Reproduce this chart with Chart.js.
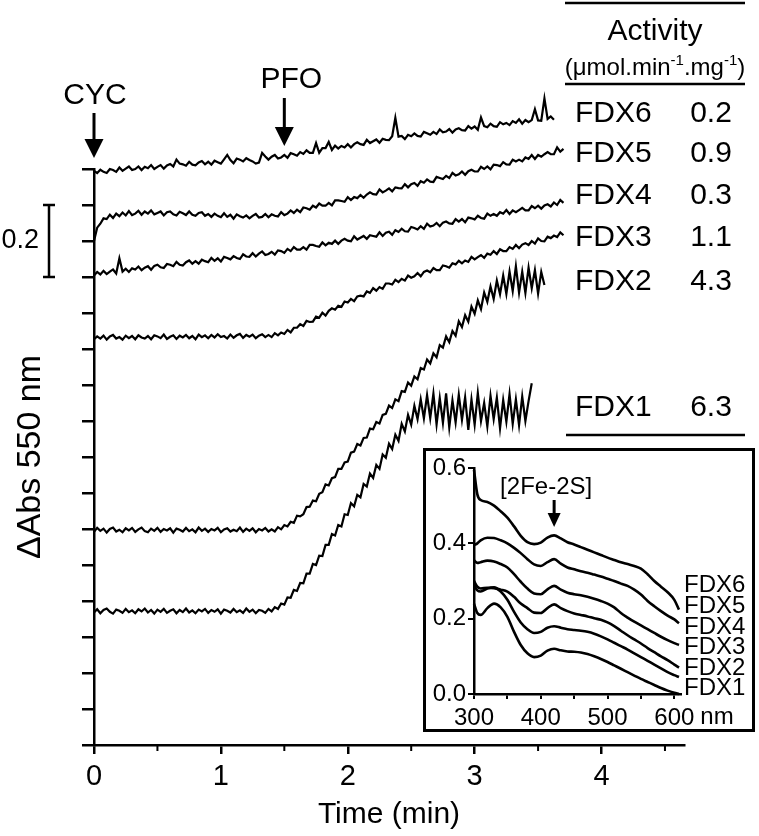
<!DOCTYPE html>
<html>
<head>
<meta charset="utf-8">
<script src="https://cdn.jsdelivr.net/npm/chart.js@4.4.1/dist/chart.umd.min.js"></script>
<style>
  html, body { margin: 0; padding: 0; background: #fff; }
  #wrap { position: relative; width: 759px; height: 836px; }
  #main { position: absolute; left: 0; top: 0; }
  #inset { position: absolute; left: 423px; top: 448px; width: 332px; height: 284px;
           border: 3px solid #000; box-sizing: border-box; background: #fff; }
  #insetCanvas { position: absolute; left: 0; top: 0; }
</style>
</head>
<body>
<div id="wrap">
  <canvas id="main" width="759" height="836"></canvas>
  <div id="inset"><canvas id="insetCanvas" width="326" height="278"></canvas></div>
</div>
<script>
// sampling times (min)
var times = [0,0.025,0.05,0.075,0.1,0.125,0.15,0.175,0.2,0.225,0.25,0.275,0.3,0.325,0.35,0.375,0.4,0.425,0.45,0.475,
             0.5,0.525,0.55,0.575,0.6,0.625,0.65,0.675,0.7,0.725,0.75,0.775,0.8,0.825,0.85,0.875,0.9,0.925,0.95,0.975,
             1,1.025,1.05,1.075,1.1,1.125,1.15,1.175,1.2,1.225,1.25,1.275,1.3,1.325,1.35,1.375,1.4,1.425,1.45,1.475,
             1.5,1.525,1.55,1.575,1.6,1.625,1.65,1.675,1.7,1.725,1.75,1.775,1.8,1.825,1.85,1.875,1.9,1.925,1.95,1.975,
             2,2.025,2.05,2.075,2.1,2.125,2.15,2.175,2.2,2.225,2.25,2.275,2.3,2.325,2.35,2.375,2.4,2.425,2.45,2.475,
             2.5,2.525,2.55,2.575,2.6,2.625,2.65,2.675,2.7,2.725,2.75,2.775,2.8,2.825,2.85,2.875,2.9,2.925,2.95,2.975,
             3,3.025,3.05,3.075,3.1,3.125,3.15,3.175,3.2,3.225,3.25,3.275,3.3,3.325,3.35,3.375,3.4,3.425,3.45,3.475,
             3.5,3.525,3.55,3.575,3.6,3.625,3.65,3.675,3.7];

// dAbs 550 nm traces, in mAbs (traces are offset from each other)
var fdx6 = [1595,1589,1598,1592,1589,1600,1597,1592,1604,1595,1601,1607,1597,1600,1607,1597,1606,1602,1611,1600,
            1606,1611,1601,1610,1614,1607,1626,1615,1613,1609,1620,1612,1610,1618,1622,1613,1620,1612,1623,1619,
            1615,1627,1639,1625,1616,1629,1626,1621,1630,1625,1621,1615,1618,1645,1635,1626,1634,1639,1629,1632,
            1639,1631,1644,1641,1637,1647,1642,1652,1645,1645,1672,1645,1658,1658,1675,1653,1665,1657,1664,1660,
            1669,1660,1669,1674,1669,1667,1681,1672,1677,1682,1673,1684,1681,1680,1691,1742,1690,1692,1683,1695,
            1691,1699,1692,1690,1703,1699,1695,1703,1697,1710,1702,1704,1711,1701,1710,1713,1708,1707,1719,1712,
            1718,1709,1743,1719,1716,1726,1719,1717,1730,1724,1728,1722,1733,1728,1738,1726,1736,1730,1736,1766,
            1735,1734,1796,1739,1746,1737];
var fdx5 = [1400,1437,1448,1463,1461,1473,1464,1476,1469,1479,1471,1483,1472,1476,1484,1473,1482,1476,1485,1474,
            1478,1482,1471,1480,1482,1474,1471,1481,1477,1472,1482,1473,1470,1478,1480,1470,1475,1467,1476,1470,
            1466,1477,1467,1473,1462,1474,1469,1465,1471,1463,1470,1475,1465,1467,1475,1466,1474,1470,1468,1480,
            1472,1476,1485,1478,1487,1480,1493,1491,1487,1498,1493,1504,1498,1498,1506,1499,1513,1513,1511,1509,
            1522,1514,1522,1519,1528,1520,1529,1535,1530,1529,1543,1535,1540,1546,1538,1549,1547,1546,1558,1549,
            1558,1561,1553,1566,1562,1571,1565,1564,1578,1575,1572,1581,1575,1589,1582,1585,1593,1584,1594,1598,
            1593,1593,1606,1600,1607,1599,1612,1611,1608,1619,1613,1612,1626,1621,1626,1621,1632,1628,1639,1628,
            1639,1634,1641,1647,1641,1641,1660,1648,1656];
var fdx4 = [1304,1314,1307,1317,1308,1315,1321,1310,1352,1315,1323,1314,1324,1321,1329,1319,1326,1330,1320,1331,
            1334,1327,1325,1336,1334,1330,1342,1334,1332,1341,1346,1337,1344,1337,1348,1344,1341,1353,1345,1352,
            1343,1356,1353,1349,1358,1353,1350,1363,1357,1356,1366,1357,1365,1371,1361,1364,1370,1362,1374,1372,
            1367,1378,1372,1383,1376,1376,1383,1376,1389,1389,1386,1384,1396,1388,1395,1392,1401,1392,1401,1406,
            1401,1399,1413,1404,1409,1414,1406,1416,1414,1412,1424,1414,1423,1426,1417,1430,1425,1434,1427,1426,
            1439,1436,1432,1441,1434,1448,1440,1443,1450,1441,1451,1454,1449,1448,1461,1454,1461,1452,1465,1463,
            1460,1470,1464,1462,1476,1470,1475,1470,1480,1476,1486,1475,1485,1480,1486,1492,1485,1485,1497,1491,
            1498,1490,1499,1502,1496,1507,1500,1514,1506];
var fdx3 = [1127,1135,1129,1137,1126,1135,1139,1129,1133,1126,1137,1130,1136,1127,1138,1132,1129,1136,1127,1138,
            1135,1130,1140,1128,1134,1138,1128,1137,1132,1139,1130,1136,1127,1140,1133,1138,1130,1139,1132,1141,
            1133,1136,1129,1140,1131,1138,1142,1131,1139,1134,1140,1130,1137,1141,1133,1139,1133,1144,1138,1146,
            1142,1153,1146,1159,1159,1169,1164,1178,1175,1176,1190,1187,1201,1193,1206,1213,1209,1220,1217,1232,
            1229,1239,1233,1246,1248,1246,1260,1256,1269,1262,1272,1267,1282,1282,1279,1292,1286,1295,1290,1304,
            1298,1302,1311,1302,1314,1318,1313,1325,1319,1319,1332,1330,1326,1338,1335,1345,1338,1346,1342,1356,
            1349,1355,1361,1353,1365,1362,1372,1364,1377,1372,1372,1383,1378,1389,1380,1390,1394,1389,1400,1393,
            1407,1400,1399,1412,1408,1415,1411,1424,1416];
var fdx2 = [592,603,595,601,590,600,604,593,598,591,602,596,603,592,599,604,594,591,601,595,
            603,592,600,596,602,590,601,598,593,603,594,599,591,604,595,601,592,600,596,603,
            591,599,602,593,598,594,604,592,601,595,602,591,600,596,603,593,599,593,605,599,
            611,607,620,617,637,635,641,661,662,679,677,698,702,724,721,741,744,767,767,785,
            787,812,815,836,832,853,854,879,877,897,893,917,920,943,936,960,955,983,981,1007,
            998,1024,1016,1047,1043,1071,1060,1088,1077,1111,1104,1135,1119,1150,1137,1177,1161,1194,1176,1218,
            1198,1235,1211,1257,1231,1274,1239,1290,1252,1304,1253,1315,1261,1330,1256,1315,1256,1326,1269,1319,
            1254,1314,1278];
var fdx1 = [368,377,366,375,379,370,365,376,373,367,378,369,374,366,377,371,379,368,375,365,
            376,370,378,367,373,377,366,375,369,379,368,374,366,376,371,378,367,375,370,377,
            365,376,373,368,378,369,374,367,379,370,376,366,375,373,367,378,371,383,378,393,
            390,410,409,431,428,450,449,476,476,503,500,526,525,556,556,586,582,611,607,641,
            639,672,663,695,688,725,718,754,742,778,767,807,798,837,822,862,845,892,871,917,
            890,942,905,960,907,972,908,976,890,964,895,977,882,957,896,973,903,966,875,960,
            890,978,900,950,885,970,905,965,880,958,898,975,892,960,888,968,900,955,1005];

var traceNames = ['FDX1', 'FDX2', 'FDX3', 'FDX4', 'FDX5', 'FDX6'];
var traces = [fdx1, fdx2, fdx3, fdx4, fdx5, fdx6];
var activity = [6.3, 4.3, 1.1, 0.3, 0.9, 0.2];   // umol.min-1.mg-1

// inset: UV-vis spectra
var wavelengths = [300,305,310,320,330,340,350,360,370,380,390,400,410,420,430,440,450,460,470,480,
                   490,500,510,520,530,540,550,560,570,580,590,600,607];
var spec6 = [0.595,0.530,0.515,0.510,0.500,0.485,0.468,0.445,0.420,0.403,0.398,0.402,0.415,0.421,0.413,0.403,0.397,0.390,0.383,0.376,
             0.369,0.362,0.356,0.350,0.345,0.340,0.333,0.318,0.300,0.285,0.270,0.250,0.224];
var spec5 = [0.395,0.400,0.408,0.415,0.414,0.408,0.400,0.388,0.374,0.358,0.344,0.340,0.350,0.358,0.346,0.336,0.331,0.326,0.322,0.317,
             0.312,0.306,0.300,0.293,0.287,0.277,0.264,0.247,0.233,0.220,0.208,0.198,0.188];
var spec4 = [0.355,0.348,0.350,0.354,0.352,0.345,0.336,0.318,0.298,0.280,0.267,0.265,0.278,0.287,0.277,0.269,0.265,0.262,0.258,0.253,
             0.247,0.240,0.230,0.215,0.203,0.192,0.182,0.172,0.162,0.152,0.143,0.135,0.130];
var spec3 = [0.300,0.285,0.280,0.282,0.281,0.277,0.272,0.258,0.240,0.228,0.216,0.215,0.228,0.238,0.228,0.220,0.214,0.210,0.206,0.201,
             0.197,0.190,0.180,0.168,0.156,0.145,0.134,0.122,0.111,0.100,0.090,0.078,0.070];
var spec2 = [0.290,0.275,0.272,0.280,0.283,0.272,0.250,0.218,0.190,0.172,0.162,0.165,0.176,0.180,0.176,0.172,0.170,0.168,0.165,0.160,
             0.153,0.145,0.136,0.127,0.118,0.108,0.098,0.088,0.078,0.068,0.058,0.050,0.045];
var spec1 = [0.240,0.215,0.210,0.228,0.240,0.230,0.205,0.165,0.130,0.108,0.098,0.102,0.115,0.120,0.116,0.113,0.112,0.110,0.106,0.100,
             0.093,0.085,0.076,0.067,0.058,0.049,0.040,0.032,0.024,0.016,0.009,0.003,0.000];
var spectra = [spec1, spec2, spec3, spec4, spec5, spec6];

var FONT = "'Liberation Sans', Arial, sans-serif";

function arrowDown(ctx, x, yTop, yTip, half, headLen) {
    ctx.beginPath();
    ctx.lineWidth = 3;
    ctx.moveTo(x, yTop);
    ctx.lineTo(x, yTip - headLen + 2);
    ctx.stroke();
    ctx.beginPath();
    ctx.moveTo(x - half, yTip - headLen);
    ctx.lineTo(x + half, yTip - headLen);
    ctx.lineTo(x, yTip);
    ctx.closePath();
    ctx.fill();
}

function hline(ctx, x1, x2, y) {
    ctx.beginPath();
    ctx.lineWidth = 2.5;
    ctx.moveTo(x1, y);
    ctx.lineTo(x2, y);
    ctx.stroke();
}

var mainDecor = {
    id: 'mainDecor',
    afterDraw: function(chart) {
        var ctx = chart.ctx;
        var xs = chart.scales.x, ys = chart.scales.y;
        ctx.save();
        ctx.fillStyle = '#000';
        ctx.strokeStyle = '#000';
        ctx.textBaseline = 'middle';

        // short ticks at the half minutes
        ctx.lineWidth = 2;
        ctx.beginPath();
        xs.ticks.forEach(function(t) {
            if (!Number.isInteger(t.value)) {
                var tx = xs.getPixelForValue(t.value);
                ctx.moveTo(tx, xs.top);
                ctx.lineTo(tx, xs.top + 6);
            }
        });
        ctx.stroke();

        // additions
        ctx.font = '30px ' + FONT;
        ctx.textAlign = 'center';
        var x0 = xs.getPixelForValue(0), x15 = xs.getPixelForValue(1.5);
        ctx.fillText('CYC', x0 + 1, 96);
        arrowDown(ctx, x0, 113, 158, 9.5, 19);
        ctx.fillText('PFO', x15 + 7, 80);
        arrowDown(ctx, x15, 98, 146, 9.5, 19);

        // 0.2 scale bar
        var yb1 = ys.getPixelForValue(1.5), yb2 = ys.getPixelForValue(1.3);
        ctx.lineWidth = 2.5;
        ctx.beginPath();
        ctx.moveTo(49, yb1); ctx.lineTo(49, yb2);
        ctx.moveTo(43, yb1); ctx.lineTo(55, yb1);
        ctx.moveTo(43, yb2); ctx.lineTo(55, yb2);
        ctx.stroke();
        ctx.font = '27px ' + FONT;
        ctx.textAlign = 'right';
        ctx.fillText('0.2', 39, (yb1 + yb2) / 2);

        // activity table
        hline(ctx, 565, 745, 3);
        ctx.textAlign = 'center';
        ctx.font = '30px ' + FONT;
        ctx.fillText('Activity', 655, 32);
        var parts = [['(\u03bcmol.min', false], ['-1', true], ['.mg', false], ['-1', true], [')', false]];
        var w = 0, i;
        for (i = 0; i < parts.length; i++) {
            ctx.font = (parts[i][1] ? '15px ' : '24px ') + FONT;
            w += ctx.measureText(parts[i][0]).width;
        }
        var px = 655 - w / 2;
        ctx.textAlign = 'left';
        for (i = 0; i < parts.length; i++) {
            ctx.font = (parts[i][1] ? '15px ' : '24px ') + FONT;
            ctx.fillText(parts[i][0], px, parts[i][1] ? 61 : 68);
            px += ctx.measureText(parts[i][0]).width;
        }
        hline(ctx, 565, 745, 84);

        var rowY = [408, 282, 238, 196, 154, 114];
        ctx.font = '30px ' + FONT;
        for (i = 0; i < traceNames.length; i++) {
            ctx.textAlign = 'left';
            ctx.fillText(traceNames[i], 575, rowY[i]);
            ctx.textAlign = 'center';
            ctx.fillText(activity[i].toFixed(1), 711, rowY[i]);
        }
        hline(ctx, 566, 745, 435);
        ctx.restore();
    }
};

var mainSets = traces.map(function(vals, k) {
    return {
        label: traceNames[k],
        data: vals.map(function(v, i) { return { x: times[i], y: v / 1000 }; }),
        borderColor: '#000',
        borderWidth: 2.2,
        pointRadius: 0,
        tension: 0,
        clip: false
    };
});

new Chart(document.getElementById('main'), {
    type: 'line',
    data: { datasets: mainSets },
    options: {
        responsive: false,
        animation: false,
        layout: { padding: { top: 169, right: 75, left: 0, bottom: 0 } },
        plugins: { legend: { display: false }, tooltip: { enabled: false } },
        scales: {
            x: {
                type: 'linear', min: 0, max: 4.65,
                border: { color: '#000', width: 2.5 },
                grid: {
                    drawOnChartArea: false, color: '#000', tickLength: 9, lineWidth: 2.5,
                    tickColor: function(c) {
                        return (c.tick && Number.isInteger(c.tick.value)) ? '#000' : 'rgba(0,0,0,0)';
                    }
                },
                ticks: {
                    stepSize: 0.5, includeBounds: false, autoSkip: false, maxRotation: 0,
                    padding: 6, color: '#000', font: { family: FONT, size: 29 },
                    callback: function(v) { return Number.isInteger(v) ? String(v) : ''; }
                },
                title: { display: true, text: 'Time (min)', color: '#000',
                         font: { family: FONT, size: 30 }, padding: { top: 0, bottom: 3 } },
                afterFit: function(s) { s.height = 91; }
            },
            y: {
                type: 'linear', min: 0, max: 1.6,
                border: { color: '#000', width: 2.5 },
                grid: { drawOnChartArea: false, color: '#000', tickLength: 12, lineWidth: 2.5 },
                ticks: { stepSize: 0.1, padding: 0, callback: function() { return ''; } },
                title: { display: true, text: '\u0394Abs 550 nm', color: '#000',
                         font: { family: FONT, size: 34 }, padding: { top: 10, bottom: 0 } },
                afterFit: function(s) { s.width = 94; }
            }
        }
    },
    plugins: [mainDecor]
});

// ---- inset ----
var insetDecor = {
    id: 'insetDecor',
    afterDraw: function(chart) {
        var ctx = chart.ctx;
        var xs = chart.scales.x;
        ctx.save();
        ctx.fillStyle = '#000';
        ctx.strokeStyle = '#000';
        ctx.textBaseline = 'middle';
        ctx.font = '24px ' + FONT;
        ctx.textAlign = 'left';
        var labY = [237, 217, 196, 176, 155, 134];
        for (var i = 0; i < traceNames.length; i++) {
            ctx.fillText(traceNames[i], 258, labY[i]);
        }
        var x420 = xs.getPixelForValue(420);
        ctx.textAlign = 'center';
        ctx.fillText('[2Fe-2S]', x420 - 8, 36);
        arrowDown(ctx, x420, 49, 76, 6.5, 14);
        var x600 = xs.getPixelForValue(600);
        ctx.textAlign = 'left';
        ctx.fillText('nm', x600 + 26, 266);
        ctx.restore();
    }
};

var insetSets = spectra.map(function(vals, k) {
    return {
        label: traceNames[k],
        data: vals.map(function(v, i) { return { x: wavelengths[i], y: v }; }),
        borderColor: '#000',
        borderWidth: 2.6,
        pointRadius: 0,
        cubicInterpolationMode: 'monotone',
        clip: false
    };
});

new Chart(document.getElementById('insetCanvas'), {
    type: 'line',
    data: { datasets: insetSets },
    options: {
        responsive: false,
        animation: false,
        layout: { padding: { top: 17, right: 71, left: 0, bottom: 0 } },
        plugins: { legend: { display: false }, tooltip: { enabled: false } },
        scales: {
            x: {
                type: 'linear', min: 300, max: 610,
                border: { color: '#000', width: 2.5 },
                grid: { drawOnChartArea: false, color: '#000', tickLength: 5, lineWidth: 2 },
                ticks: {
                    stepSize: 50, includeBounds: false, autoSkip: false, maxRotation: 0,
                    padding: 5, color: '#000', font: { family: FONT, size: 24 },
                    callback: function(v) { return v % 100 === 0 ? String(v) : ''; }
                },
                afterFit: function(s) { s.height = 35; }
            },
            y: {
                type: 'linear', min: 0, max: 0.6,
                border: { color: '#000', width: 2.5 },
                grid: { drawOnChartArea: false, color: '#000', tickLength: 6, lineWidth: 2 },
                ticks: {
                    stepSize: 0.2, padding: 2, color: '#000', font: { family: FONT, size: 24 },
                    callback: function(v) { return v.toFixed(1); }
                },
                afterFit: function(s) { s.width = 48; }
            }
        }
    },
    plugins: [insetDecor]
});
</script>
</body>
</html>
